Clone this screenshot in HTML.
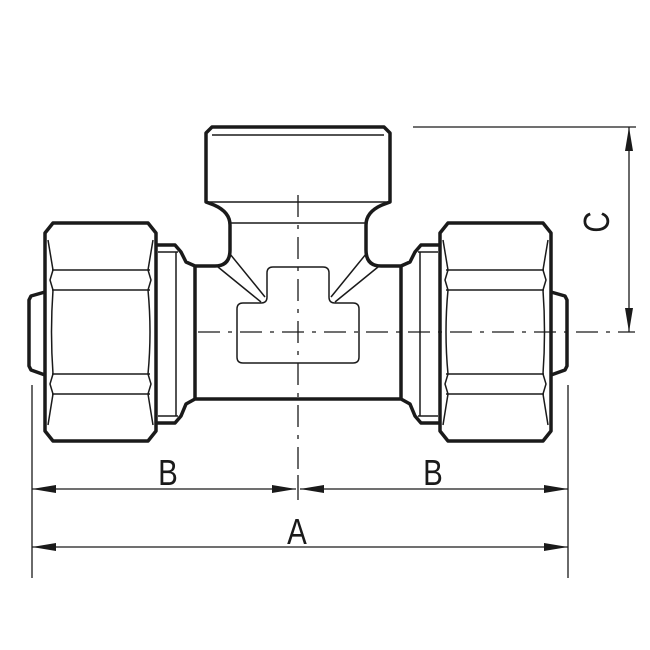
<!DOCTYPE html>
<html><head><style>html,body{margin:0;padding:0;background:#fff}svg{display:block}</style></head>
<body>
<svg width="650" height="650" viewBox="0 0 650 650" xmlns="http://www.w3.org/2000/svg">
<defs>
<g id="half" fill="none" stroke="#1a1a1a" stroke-linejoin="round">
  <path d="M298,127 L212,127 L206,133 L206,202 L214,205 Q230,212 230,225 L230,250 Q230,266 215,266 L195,266 L186,262 L181,252 L175,245 L156,245" stroke-width="3.5"/>
  <path d="M298,399 L195,399 L186,404 L181,416 L175,423 L156,423" stroke-width="3.5"/>
  <line x1="195" y1="266" x2="195" y2="399" stroke-width="3.5"/>
  <line x1="176" y1="252" x2="176" y2="416" stroke-width="1.5"/>
  <line x1="158" y1="252" x2="178" y2="252" stroke-width="1.5"/>
  <line x1="158" y1="416" x2="178" y2="416" stroke-width="1.5"/>
  <polygon points="53,223 148,223 156,233 156,431 148,441 53,441 45,431 45,233" stroke-width="3.5"/>
  <path d="M45,292 L31,296 L29,300 L29,366 L31,370 L45,375" stroke-width="3.5"/>
  <path d="M48,240 L53,270 L50,280 L53,290 Q50,332 53,374 L50,384 L53,394 L48,425" stroke-width="1.5"/>
  <path d="M153,240 L148,270 L151,280 L148,290 Q152,332 148,374 L151,384 L148,394 L153,425" stroke-width="1.5"/>
  <line x1="52" y1="270" x2="150" y2="270" stroke-width="1.5"/>
  <line x1="52" y1="290" x2="150" y2="290" stroke-width="1.5"/>
  <line x1="52" y1="374" x2="150" y2="374" stroke-width="1.5"/>
  <line x1="52" y1="394" x2="150" y2="394" stroke-width="1.5"/>
  <line x1="212" y1="135" x2="298" y2="135" stroke-width="1.5"/>
  <line x1="208" y1="202" x2="298" y2="202" stroke-width="1.5"/>
  <line x1="230" y1="223" x2="298" y2="223" stroke-width="1.5"/>
  <path d="M298,267 L273,267 Q267,267 267,273 L267,297 Q267,303 261,303 L243,303 Q237,303 237,309 L237,357 Q237,363 243,363 L298,363" stroke-width="1.5"/>
  <line x1="218" y1="267" x2="261" y2="302" stroke-width="1.5"/>
  <line x1="230" y1="254" x2="265" y2="297" stroke-width="1.5"/>
</g>
</defs>
<use href="#half"/>
<use href="#half" transform="translate(596,0) scale(-1,1)"/>
<g stroke="#1a1a1a" stroke-width="1.3" fill="none">
  <line x1="298" y1="195" x2="298" y2="470" stroke-dasharray="22,8,4,8"/>
  <line x1="198" y1="332" x2="635" y2="332" stroke-dasharray="22,8,4,8"/>
  <line x1="298" y1="475" x2="298" y2="500"/>
  <line x1="32" y1="385" x2="32" y2="578"/>
  <line x1="568" y1="385" x2="568" y2="578"/>
  <line x1="32" y1="489" x2="296" y2="489"/>
  <line x1="300" y1="489" x2="568" y2="489"/>
  <line x1="32" y1="547" x2="568" y2="547"/>
  <line x1="413" y1="127" x2="636" y2="127"/>
  <line x1="629" y1="127" x2="629" y2="332"/>
</g>
<g fill="#1a1a1a">
  <polygon points="32,489 56,485 56,493"/>
  <polygon points="296,489 272,485 272,493"/>
  <polygon points="300,489 324,485 324,493"/>
  <polygon points="568,489 544,485 544,493"/>
  <polygon points="32,547 56,543 56,551"/>
  <polygon points="568,547 544,543 544,551"/>
  <polygon points="629,127 625,151 633,151"/>
  <polygon points="629,332 625,308 633,308"/>
</g>
<g font-family="Liberation Sans, sans-serif" font-size="36" fill="#1a1a1a" text-anchor="middle">
  <text transform="translate(168,485) scale(0.82,1)">B</text>
  <text transform="translate(433,485) scale(0.82,1)">B</text>
  <text transform="translate(297,544) scale(0.82,1)">A</text>
  <text transform="translate(609,222) rotate(-90) scale(0.82,1)">C</text>
</g>
</svg>
</body></html>
